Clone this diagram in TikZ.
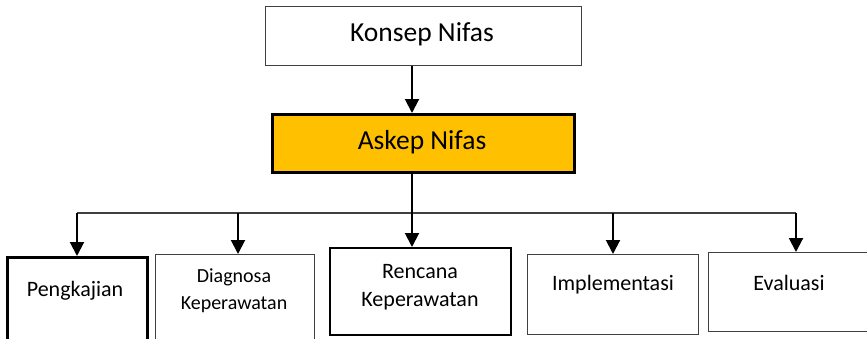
\documentclass[tikz,border=0pt]{standalone}
\usepackage{fontspec}
\setmainfont{Carlito}
\usetikzlibrary{arrows.meta}
\definecolor{askepfill}{HTML}{FFC000}
\definecolor{thinline}{HTML}{404040}
\begin{document}
\begin{tikzpicture}[x=1pt,y=-1pt,
  boxbase/.style={rectangle, inner sep=0pt, anchor=north west},
  thinbox/.style={boxbase, draw=thinline, line width=1pt},
  thickbox/.style={boxbase, draw=black, line width=2.5pt},
  lbl/.style={inner sep=0pt, align=center, font=\fontsize{22}{28}\selectfont},
  biglbl/.style={inner sep=0pt, font=\fontsize{27.5}{33}\selectfont},
  arr/.style={draw=black, line width=2pt, -{Triangle[width=14pt,length=14pt]}},
  branch/.style={draw=thinline, line width=1.3pt}
]
\useasboundingbox (0,0) rectangle (867,338);
\clip (0,0) rectangle (867,338);
% top boxes
\node[thinbox, minimum width=316pt, minimum height=59pt] (konsep) at (265,6) {};
\node[thickbox, fill=askepfill, minimum width=302pt, minimum height=58pt] (askep) at (271,113) {};
\node[biglbl] (tkonsep) at (422,34) {Konsep Nifas};
\node[biglbl] (taskep) at (422,142) {Askep Nifas};
% bottom boxes
\node[boxbase, draw=black, line width=3pt, minimum width=140pt, minimum height=110pt] (peng) at (6,256) {};
\node[thinbox, minimum width=159pt, minimum height=110pt] (diag) at (155,254) {};
\node[boxbase, draw=black, line width=2pt, minimum width=181pt, minimum height=87pt] (renc) at (329,247) {};
\node[thinbox, minimum width=171pt, minimum height=80pt] (impl) at (527,254) {};
\node[thinbox, minimum width=172pt, minimum height=79pt] (eval) at (708,252) {};
% labels
\node[lbl] (tpeng) at (75,291) {Pengkajian};
\node[lbl, font=\fontsize{20}{27}\selectfont] (tdiag) at (234,291) {Diagnosa\\Keperawatan};
\node[lbl] (trenc) at (420,287) {Rencana\\Keperawatan};
\node[lbl] (timpl) at (613,285) {Implementasi};
\node[lbl] (teval) at (789,283) {Evaluasi};
% connectors
\coordinate (midx) at (412,0);
\coordinate (b1) at (77,213);
\coordinate (b2) at (238,213);
\coordinate (b4) at (613,213);
\coordinate (b5) at (796,213);
\draw[arr] (konsep.south -| midx) -- (askep.north -| midx);
\draw[branch] (b1) -- (b5);
\draw[arr] (askep.south -| midx) -- (renc.north -| midx);
\draw[arr] (b1) -- (b1 |- peng.north);
\draw[arr] (b2) -- (b2 |- diag.north);
\draw[arr] (b4) -- (b4 |- impl.north);
\draw[arr] (b5) -- (b5 |- eval.north);
\end{tikzpicture}
\end{document}
